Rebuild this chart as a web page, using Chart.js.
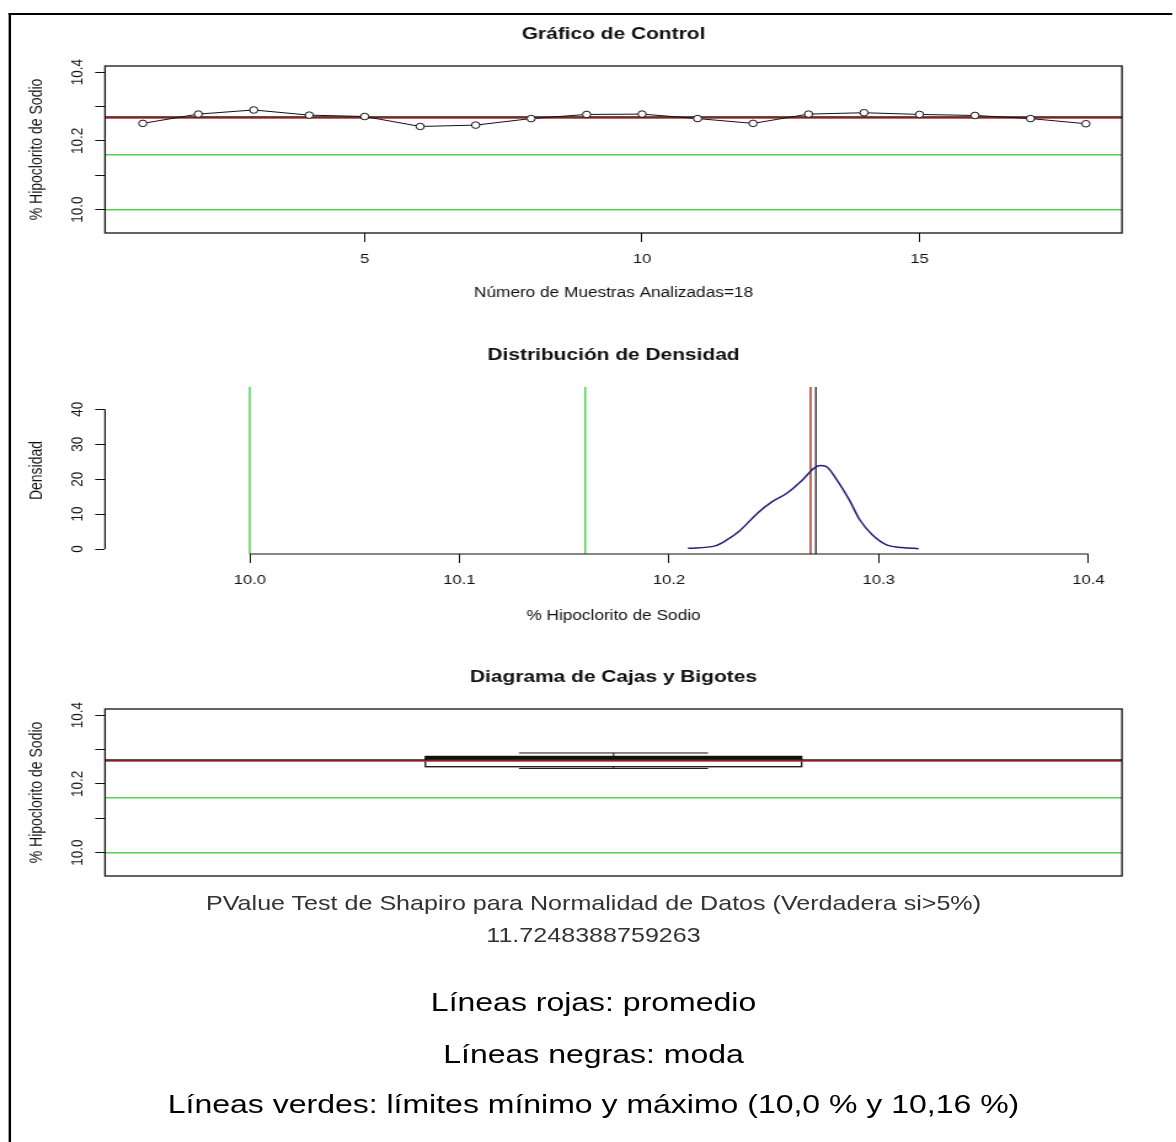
<!DOCTYPE html>
<html lang="es">
<head>
  <meta charset="UTF-8" />
  <meta name="viewport" content="width=device-width, initial-scale=1.0" />
  <title>Gráfico de Control - Hipoclorito de Sodio</title>
  <script src="https://cdn.jsdelivr.net/npm/chart.js"></script>
  <style>
    body {
      margin: 0;
      background: #fff;
      overflow: hidden;
      font-family: 'Liberation Sans', Arial, sans-serif;
    }

    /* the source picture is stretched sideways, so the whole sheet is too */
    #page {
      position: absolute;
      left: 0;
      top: 0;
      width: 956px;
      height: 1142px;
      transform: scaleX(1.2301);
      transform-origin: 0 0;
    }

    .panel {
      position: absolute;
      left: 0;
      width: 956px;
      height: 322px;
    }

    .frame-left {
      position: absolute;
      left: 6.5px;
      top: 12.5px;
      width: 2px;
      height: 1130px;
      background: #000;
    }

    .frame-top {
      position: absolute;
      left: 6.5px;
      top: 12.5px;
      width: 946px;
      height: 2px;
      background: #000;
    }

    .note {
      position: absolute;
      left: 0;
      width: 965px;
      text-align: center;
      white-space: nowrap;
    }

    .pv {
      font-size: 20.4px;
      line-height: 20.4px;
      color: #333;
    }

    .leg {
      font-size: 26px;
      line-height: 26px;
      color: #000;
    }
  </style>
</head>
<body>
  <div id="page">
    <div class="frame-left"></div>
    <div class="frame-top"></div>

    <div class="panel" style="top:0px"><canvas id="control" width="956" height="322"></canvas></div>
    <div class="panel" style="top:321px"><canvas id="density" width="956" height="322"></canvas></div>
    <div class="panel" style="top:643px"><canvas id="boxplot" width="956" height="322"></canvas></div>

    <div class="note pv" style="top:892.8px">PValue Test de Shapiro para Normalidad de Datos (Verdadera si&gt;5%)</div>
    <div class="note pv" style="top:924.8px">11.7248388759263</div>

    <div class="note leg" style="top:989px">Líneas rojas: promedio</div>
    <div class="note leg" style="top:1041px">Líneas negras: moda</div>
    <div class="note leg" style="top:1091px">Líneas verdes: límites mínimo y máximo (10,0 % y 10,16 %)</div>
  </div>

  <script>
    // muestras (gráfico de control)
    const sampleNo = [1, 2, 3, 4, 5, 6, 7, 8, 9, 10, 11, 12, 13, 14, 15, 16, 17, 18];
    const sampleValues = [10.251, 10.278, 10.290, 10.275, 10.271, 10.242, 10.246, 10.265, 10.277,
                          10.278, 10.265, 10.251, 10.278, 10.282, 10.277, 10.274, 10.265, 10.250];
    const meanValue = 10.2675;
    const modeValue = 10.27;
    const limitValues = [10.0, 10.16];

    // curva de densidad
    const densX = [10.209, 10.222, 10.227, 10.234, 10.242, 10.249, 10.256, 10.264, 10.269,
                   10.272, 10.275, 10.280, 10.286, 10.291, 10.297, 10.304, 10.311, 10.319];
    const densY = [0.2, 0.9, 2.4, 5.4, 10.2, 13.5, 15.9, 20.0, 23.1,
                   23.9, 23.6, 19.8, 14.0, 8.3, 4.0, 1.1, 0.4, 0.1];

    // caja y bigotes: min, Q1, mediana, Q3, max
    const boxStats = [10.245, 10.25, 10.275, 10.28, 10.29];

    // ticks
    const pctTicks = [10.0, 10.1, 10.2, 10.3, 10.4];
    const pctSideLabels = ['10.0', '', '10.2', '', '10.4'];
    const pctBottomLabels = ['10.0', '10.1', '10.2', '10.3', '10.4'];
    const sampleTicks = [5, 10, 15];
    const sampleTickLabels = ['5', '10', '15'];
    const densTicks = [0, 10, 20, 30, 40];
    const densTickLabels = ['0', '10', '20', '30', '40'];

    const FONT = "'Liberation Sans', Arial, sans-serif";
    const INK = '#111';
    const RED = '#b8312f';
    const GREEN = '#52d152';
    const NAVY = '#1d1d78';

    Chart.defaults.font.family = FONT;

    function fixTicks(values) {
      return s => { s.ticks = values.map(v => ({ value: v })); };
    }

    function sideScale(min, max, ticks, labels, title, pad) {
      return {
        type: 'linear',
        min: min,
        max: max,
        afterBuildTicks: fixTicks(ticks),
        afterFit: s => { s.width = 85.4; s.paddingTop = 0; s.paddingBottom = 0; },
        ticks: {
          callback: (v, i) => labels[i],
          minRotation: 90,
          maxRotation: 90,
          crossAlign: 'center',
          padding: pad,
          color: INK,
          font: { size: 13.5 }
        },
        grid: { drawOnChartArea: false, tickLength: 8, color: INK },
        border: { display: false },
        title: {
          display: true,
          text: title,
          color: INK,
          font: { size: 14 },
          padding: { top: 21.9, bottom: 0 }
        }
      };
    }

    function bottomScale(min, max, ticks, labels, title, titlePad) {
      return {
        type: 'linear',
        min: min,
        max: max,
        afterBuildTicks: fixTicks(ticks),
        afterFit: s => { s.height = 89; s.paddingLeft = 0; s.paddingRight = 0; },
        ticks: {
          callback: (v, i) => labels[i],
          maxRotation: 0,
          autoSkip: false,
          padding: 9,
          color: INK,
          font: { size: 13.5 }
        },
        grid: { drawOnChartArea: false, tickLength: 9, color: INK },
        border: { display: false },
        title: {
          display: true,
          text: title,
          color: INK,
          font: { size: 14 },
          padding: { top: 0, bottom: titlePad }
        }
      };
    }

    function mainTitle(text) {
      return {
        display: true,
        text: text,
        fullSize: false,
        color: INK,
        font: { size: 17, weight: 'bold' },
        padding: { top: 23.8, bottom: 21.8 }
      };
    }

    function baseOptions(title, scales) {
      return {
        responsive: false,
        animation: false,
        events: [],
        layout: { padding: { left: 0, right: 43.9, top: 0, bottom: 0 } },
        plugins: {
          legend: { display: false },
          tooltip: { enabled: false },
          title: mainTitle(title)
        },
        scales: scales
      };
    }

    function hLine(y, xmin, xmax, color, width) {
      return {
        data: [{ x: xmin, y: y }, { x: xmax, y: y }],
        borderColor: color, borderWidth: width, pointRadius: 0, fill: false
      };
    }

    function vLine(x, ymin, ymax, color, width) {
      return {
        data: [{ x: x, y: ymin }, { x: x, y: ymax }],
        borderColor: color, borderWidth: width, pointRadius: 0, fill: false
      };
    }

    const boxFrame = {
      id: 'boxFrame',
      afterDraw(chart) {
        const { ctx, chartArea: a } = chart;
        ctx.save();
        ctx.strokeStyle = INK;
        ctx.lineWidth = 1.3;
        ctx.strokeRect(a.left, a.top, a.right - a.left, a.bottom - a.top);
        ctx.restore();
      }
    };

    // R style axes: only from first to last tick, no box
    const openAxes = {
      id: 'openAxes',
      afterDraw(chart) {
        const { ctx, chartArea: a, scales: { x, y } } = chart;
        ctx.save();
        ctx.strokeStyle = INK;
        ctx.lineWidth = 1.2;
        ctx.beginPath();
        ctx.moveTo(x.getPixelForValue(pctTicks[0]), a.bottom);
        ctx.lineTo(x.getPixelForValue(pctTicks[pctTicks.length - 1]), a.bottom);
        ctx.moveTo(a.left, y.getPixelForValue(densTicks[0]));
        ctx.lineTo(a.left, y.getPixelForValue(densTicks[densTicks.length - 1]));
        ctx.stroke();
        ctx.restore();
      }
    };

    const boxWhisker = {
      id: 'boxWhisker',
      beforeDatasetsDraw(chart) {
        const { ctx, scales: { x, y } } = chart;
        const [lo, q1, med, q3, hi] = boxStats;
        const cx = x.getPixelForValue(1);
        const bw = x.getPixelForValue(1.185) - cx;
        const sw = x.getPixelForValue(1.093) - cx;
        ctx.save();
        ctx.strokeStyle = INK;
        ctx.lineWidth = 1;
        ctx.beginPath();
        ctx.moveTo(cx, y.getPixelForValue(q3)); ctx.lineTo(cx, y.getPixelForValue(hi));
        ctx.moveTo(cx, y.getPixelForValue(q1)); ctx.lineTo(cx, y.getPixelForValue(lo));
        ctx.moveTo(cx - sw, y.getPixelForValue(hi)); ctx.lineTo(cx + sw, y.getPixelForValue(hi));
        ctx.moveTo(cx - sw, y.getPixelForValue(lo)); ctx.lineTo(cx + sw, y.getPixelForValue(lo));
        ctx.stroke();
        ctx.lineWidth = 1.3;
        ctx.strokeRect(cx - bw, y.getPixelForValue(q3), 2 * bw, y.getPixelForValue(q1) - y.getPixelForValue(q3));
        ctx.lineWidth = 3;
        ctx.beginPath();
        ctx.moveTo(cx - bw, y.getPixelForValue(med));
        ctx.lineTo(cx + bw, y.getPixelForValue(med));
        ctx.stroke();
        ctx.restore();
      }
    };

    // 1. Gráfico de Control
    const ctrlX = [0.32, 18.65];
    const pctRange = [9.932, 10.418];
    new Chart(document.getElementById('control'), {
      type: 'line',
      data: {
        datasets: [
          {
            data: sampleNo.map((n, i) => ({ x: n, y: sampleValues[i] })),
            borderColor: INK,
            borderWidth: 1,
            pointRadius: 3.3,
            pointBorderWidth: 1,
            pointBorderColor: INK,
            pointBackgroundColor: '#fff',
            fill: false
          },
          hLine(modeValue, ctrlX[0], ctrlX[1], INK, 1),
          hLine(meanValue, ctrlX[0], ctrlX[1], RED, 2),
          hLine(limitValues[0], ctrlX[0], ctrlX[1], GREEN, 1.5),
          hLine(limitValues[1], ctrlX[0], ctrlX[1], GREEN, 1.5)
        ]
      },
      options: baseOptions('Gráfico de Control', {
        x: bottomScale(ctrlX[0], ctrlX[1], sampleTicks, sampleTickLabels, 'Número de Muestras Analizadas=18', 20.6),
        y: sideScale(pctRange[0], pctRange[1], pctTicks, pctSideLabels, '% Hipoclorito de Sodio', 1.3)
      }),
      plugins: [boxFrame]
    });

    // 2. Distribución de Densidad
    const densRangeX = [9.931, 10.416];
    const densRangeY = [-1.43, 46.39];
    new Chart(document.getElementById('density'), {
      type: 'line',
      data: {
        datasets: [
          {
            data: densX.map((x, i) => ({ x: x, y: densY[i] })),
            borderColor: NAVY,
            borderWidth: 1.5,
            pointRadius: 0,
            tension: 0.4,
            cubicInterpolationMode: 'monotone',
            fill: false
          },
          vLine(modeValue, densRangeY[0], densRangeY[1], INK, 1.2),
          vLine(meanValue, densRangeY[0], densRangeY[1], RED, 1.5),
          vLine(limitValues[0], densRangeY[0], densRangeY[1], GREEN, 1.5),
          vLine(limitValues[1], densRangeY[0], densRangeY[1], GREEN, 1.5)
        ]
      },
      options: baseOptions('Distribución de Densidad', {
        x: bottomScale(densRangeX[0], densRangeX[1], pctTicks, pctBottomLabels, '% Hipoclorito de Sodio', 18.6),
        y: sideScale(densRangeY[0], densRangeY[1], densTicks, densTickLabels, 'Densidad', 6.9)
      }),
      plugins: [openAxes]
    });

    // 3. Diagrama de Cajas y Bigotes
    const boxX = [0.5, 1.5];
    new Chart(document.getElementById('boxplot'), {
      type: 'line',
      data: {
        datasets: [
          hLine(modeValue, boxX[0], boxX[1], INK, 1),
          hLine(meanValue, boxX[0], boxX[1], RED, 2),
          hLine(limitValues[0], boxX[0], boxX[1], GREEN, 1.5),
          hLine(limitValues[1], boxX[0], boxX[1], GREEN, 1.5)
        ]
      },
      options: baseOptions('Diagrama de Cajas y Bigotes', {
        x: {
          type: 'linear',
          min: boxX[0],
          max: boxX[1],
          afterFit: s => { s.height = 89; s.paddingLeft = 0; s.paddingRight = 0; },
          ticks: { display: false },
          grid: { display: false },
          border: { display: false }
        },
        y: sideScale(pctRange[0], pctRange[1], pctTicks, pctSideLabels, '% Hipoclorito de Sodio', 1.3)
      }),
      plugins: [boxFrame, boxWhisker]
    });
  </script>
</body>
</html>
